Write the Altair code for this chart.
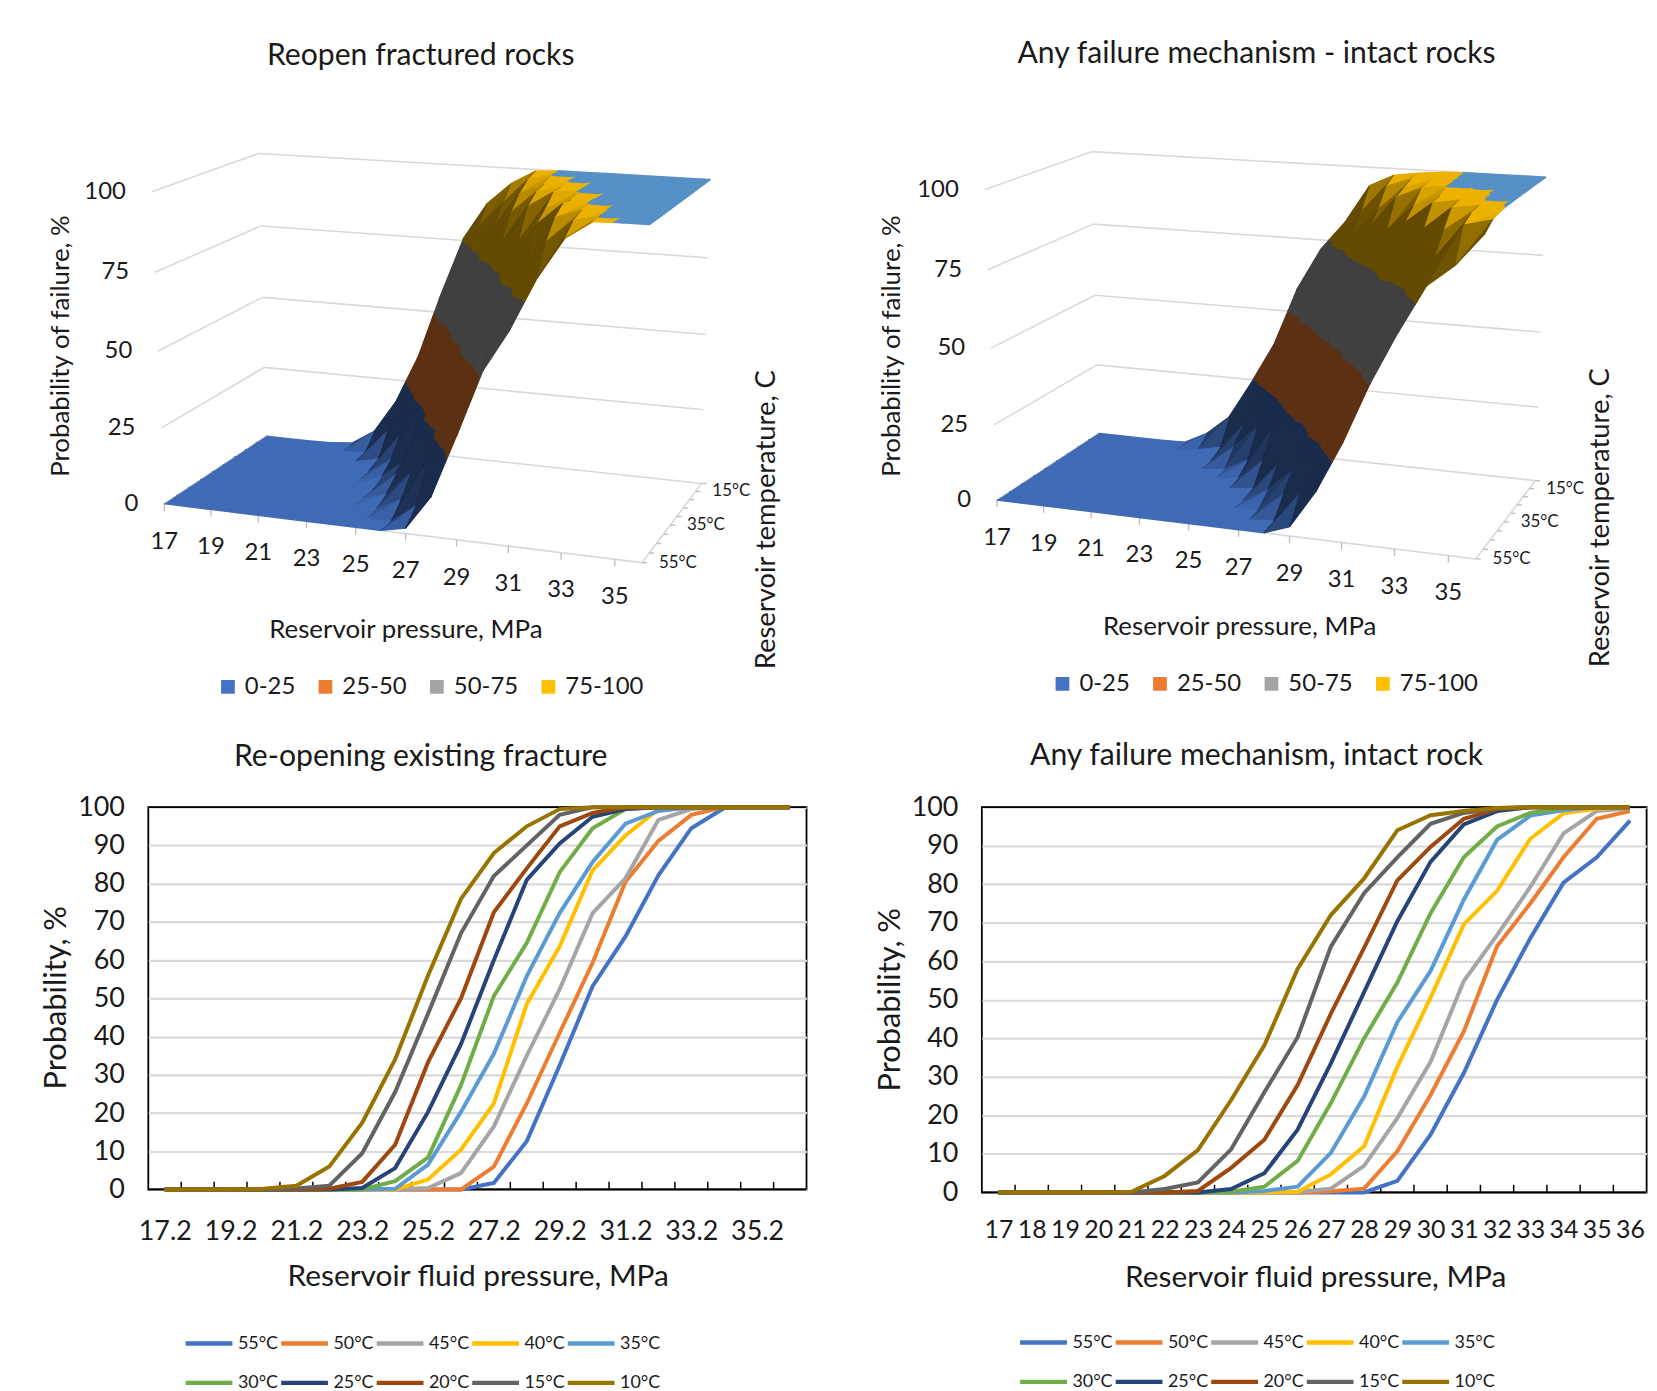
import numpy as np
import pandas as pd
import altair as alt

# ---------- values ----------
TEMPS = [55, 50, 45, 40, 35, 30, 25, 20, 15, 10]
COLORS = ["#4472C4", "#ED7D31", "#A5A5A5", "#FFC000", "#5B9BD5",
          "#70AD47", "#264478", "#9E480E", "#636363", "#997300"]
RO_P = [17.2, 18.2, 19.2, 20.2, 21.2, 22.2, 23.2, 24.2, 25.2, 26.2,
        27.2, 28.2, 29.2, 30.2, 31.2, 32.2, 33.2, 34.2, 35.2, 36.2]
RO_55 = [0, 0, 0, 0, 0, 0, 0, 0, 0, 0, 1.7, 12.6, 32.5, 53.2, 66.2, 82.2, 94.5, 99.8, 100, 100]
RO_50 = [0, 0, 0, 0, 0, 0, 0, 0, 0, 0, 6, 22.5, 41, 59.3, 80.5, 91.2, 98, 100, 100, 100]
RO_45 = [0, 0, 0, 0, 0, 0, 0, 0, 0.4, 4.3, 16.5, 35, 52.4, 72.3, 81.4, 96.7, 99.5, 100, 100, 100]
RO_40 = [0, 0, 0, 0, 0, 0, 0, 0, 2.6, 10.4, 22.5, 48.5, 63.6, 83.5, 92.6, 99.5, 100, 100, 100, 100]
RO_35 = [0, 0, 0, 0, 0, 0, 0, 0.2, 6.5, 20.3, 35.5, 55.8, 72.3, 85.7, 95.7, 99, 100, 100, 100, 100]
RO_30 = [0, 0, 0, 0, 0, 0, 0, 2.2, 8.4, 27.3, 50.6, 64.5, 83, 94.5, 99.5, 100, 100, 100, 100, 100]
RO_25 = [0, 0, 0, 0, 0, 0, 0.4, 5.6, 20.3, 38, 60, 81, 90.5, 97.5, 99.5, 100, 100, 100, 100, 100]
RO_20 = [0, 0, 0, 0, 0, 0.2, 2, 11.7, 33.3, 50, 72.5, 84, 95, 98.5, 100, 100, 100, 100, 100, 100]
RO_15 = [0, 0, 0, 0, 0.3, 1, 9.5, 25.5, 46, 67, 82, 90, 98, 100, 100, 100, 100, 100, 100, 100]
RO_10 = [0, 0, 0, 0.2, 1, 6, 17.5, 34, 56, 76, 88, 95, 99.5, 100, 100, 100, 100, 100, 100, 100]

AF_P = [17, 18, 19, 20, 21, 22, 23, 24, 25, 26, 27, 28, 29, 30, 31, 32, 33, 34, 35, 36]
AF_55 = [0, 0, 0, 0, 0, 0, 0, 0, 0, 0, 0, 0, 3, 15, 31, 50, 66, 80.4, 87, 96.5]
AF_50 = [0, 0, 0, 0, 0, 0, 0, 0, 0, 0, 0.3, 1, 10.7, 25.3, 41.8, 63.9, 75, 87, 97, 99]
AF_45 = [0, 0, 0, 0, 0, 0, 0, 0, 0, 0.2, 1, 6.9, 19.3, 33.9, 54.9, 66.8, 79.3, 93.2, 99, 99.7]
AF_40 = [0, 0, 0, 0, 0, 0, 0, 0, 0, 0.2, 4.7, 12, 32.6, 50.6, 69.6, 78.3, 91.8, 98.4, 99.6, 100]
AF_35 = [0, 0, 0, 0, 0, 0, 0, 0, 0.4, 1.5, 10.3, 24.9, 44.2, 57.5, 76, 91.5, 97.8, 99.2, 100, 100]
AF_30 = [0, 0, 0, 0, 0, 0, 0, 0.2, 1.5, 8.2, 23.2, 40, 54.5, 72.5, 87, 95, 98.5, 99.7, 100, 100]
AF_25 = [0, 0, 0, 0, 0, 0, 0, 0.9, 5, 16.3, 33.5, 52, 70.4, 85.8, 95.5, 99, 100, 100, 100, 100]
AF_20 = [0, 0, 0, 0, 0, 0, 0.4, 6.4, 13.7, 27.9, 46.4, 63.5, 81, 89.7, 97, 99.5, 100, 100, 100, 100]
AF_15 = [0, 0, 0, 0, 0, 0.9, 2.6, 11.2, 26, 40.3, 63.8, 77.7, 87, 95.7, 98.5, 99.7, 100, 100, 100, 100]
AF_10 = [0, 0, 0, 0, 0.2, 4.3, 11, 24, 38.2, 58, 72, 81.5, 94, 97.9, 99, 99.8, 100, 100, 100, 100]

RO = [RO_55, RO_50, RO_45, RO_40, RO_35, RO_30, RO_25, RO_20, RO_15, RO_10]
AF = [AF_55, AF_50, AF_45, AF_40, AF_35, AF_30, AF_25, AF_20, AF_15, AF_10]

BANDS = ["0-25", "25-50", "50-75", "75-100"]
BAND_COLORS = ["#4472C4", "#ED7D31", "#A5A5A5", "#FFC000"]
BAND_EDGES = [0, 25, 50, 75, 99.95, 100.5]
BAND_FILL = ["#4472C4", "#ED7D31", "#A5A5A5", "#FFC000", "#5B9BD5"]
Z_TICKS = [0, 25, 50, 75, 100]
P_TICK_LABELS = [17, 19, 21, 23, 25, 27, 29, 31, 33, 35]
T_TICK_LABELS = [15, 35, 55]

FONT = "Lato"
INK = "#1a1a1a"
GRID = "#D9D9D9"

# view of the 3D box: page position of its eight corners (u pressure, v depth, w height)
CUBE = [(0, 0, 0), (1, 0, 0), (1, 1, 0), (0, 1, 0), (0, 1, 1), (1, 1, 1), (0, 0, 1), (1, 0, 1)]
VIEW_A = [(163.3, 502.7), (641.7, 562.7), (703.8, 482), (265.1, 435.5),
          (257.8, 151.1), (711, 177.3), (150.2, 189.3), (651.9, 222.7)]
VIEW_B = [(999.3, 499.1), (1479.4, 559.1), (1540.6, 479.1), (1101.3, 432.5),
          (1093.8, 148.9), (1550.5, 175.5), (986.9, 187.5), (1489.8, 219.1)]


def camera(view):
    rows = []
    for (u, v, w), (x, y) in zip(CUBE, view):
        rows.append([u, v, w, 1, 0, 0, 0, 0, -x * u, -x * v, -x * w, -x])
        rows.append([0, 0, 0, 0, u, v, w, 1, -y * u, -y * v, -y * w, -y])
    return np.linalg.svd(np.array(rows, float))[2][-1].reshape(3, 4)


def project(cam, p_idx, t, z):
    """grid index along pressure, temperature, probability -> page position"""
    q = cam @ np.array([p_idx / 19, (55 - t) / 45, z / 100, 1.0])
    return float(q[0] / q[2]), float(q[1] / q[2])


def clip_band(tri, lo, hi):
    def clip(poly, keep, level):
        out = []
        for i in range(len(poly)):
            a, b = poly[i], poly[(i + 1) % len(poly)]
            ka, kb = keep(a[2]), keep(b[2])
            if ka:
                out.append(a)
            if ka != kb:
                s = (level - a[2]) / (b[2] - a[2])
                out.append(tuple(a[k] + s * (b[k] - a[k]) for k in range(3)))
        return out
    poly = clip(list(tri), lambda z: z >= lo, lo)
    if poly:
        poly = clip(poly, lambda z: z <= hi, hi)
    return poly


def shade(hex_color, f):
    r, g, b = (int(hex_color[i:i + 2], 16) for i in (1, 3, 5))
    return "#%02x%02x%02x" % (int(r * f), int(g * f), int(b * f))


def surface_table(cam, grid):
    rec = []
    pid = 0
    z = np.array(grid, float)  # rows 55..10
    for ti in range(9, 0, -1):  # back to front
        for pi in range(19):
            t_b, t_f = TEMPS[ti], TEMPS[ti - 1]
            a = (pi, t_f, z[ti - 1][pi])
            b = (pi + 1, t_f, z[ti - 1][pi + 1])
            c = (pi + 1, t_b, z[ti][pi + 1])
            d = (pi, t_b, z[ti][pi])
            for tri in ((d, c, a), (c, b, a)):
                p = np.array([[q[0] / 19, (55 - q[1]) / 45 * 0.75, q[2] / 100 * 0.9] for q in tri])
                n = np.cross(p[1] - p[0], p[2] - p[0])
                nz = abs(n[2]) / (np.linalg.norm(n) + 1e-12)
                f = 0.39 + 0.54 * float(np.clip((nz - 0.5) / 0.47, 0, 1))
                for k in range(5):
                    poly = clip_band(tri, BAND_EDGES[k], BAND_EDGES[k + 1])
                    if len(poly) < 3:
                        continue
                    col = shade(BAND_FILL[k], f)
                    for s, q in enumerate(poly):
                        x, y = project(cam, *q)
                        rec.append({"poly": pid, "seq": s, "x": x, "y": y, "c": col})
                    pid += 1
    return pd.DataFrame(rec)


def frame_lines(cam):
    rec = []
    lid = 0

    def seg(a, b):
        nonlocal lid
        for s, q in enumerate((a, b)):
            x, y = project(cam, *q)
            rec.append({"line": lid, "seq": s, "x": x, "y": y})
        lid += 1

    for z in Z_TICKS:
        seg((0, 55, z), (0, 10, z))
        seg((0, 10, z), (19, 10, z))
    seg((0, 55, 0), (19, 55, 0))
    seg((19, 55, 0), (19, 10, 0))
    return pd.DataFrame(rec)


def tick_lines(cam):
    rec = []
    lid = 0
    for i in range(0, 20, 2):
        x, y = project(cam, i, 55, 0)
        rec += [{"line": lid, "seq": 0, "x": x, "y": y}, {"line": lid, "seq": 1, "x": x, "y": y + 7}]
        lid += 1
    for t in TEMPS:
        x, y = project(cam, 19, t, 0)
        rec += [{"line": lid, "seq": 0, "x": x, "y": y}, {"line": lid, "seq": 1, "x": x + 5, "y": y}]
        lid += 1
    return pd.DataFrame(rec)


def surface_panel(grid, view, left, top, width, height, title, title_dx, title_off,
                  ytitle, xtitle, rtitle, legend_xy):
    cam = camera(view)
    X = alt.X("x:Q", axis=None, scale=alt.Scale(domain=[left, left + width], nice=False, zero=False))
    Y = alt.Y("y:Q", axis=None, scale=alt.Scale(domain=[top + height, top], nice=False, zero=False))

    grid_l = alt.Chart(frame_lines(cam)).mark_line(color=GRID, strokeWidth=1.6).encode(
        x=X, y=Y, detail="line:N", order="seq:Q")
    tick_l = alt.Chart(tick_lines(cam)).mark_line(color="#BFBFBF", strokeWidth=1.4).encode(
        x=X, y=Y, detail="line:N", order="seq:Q")
    key = pd.DataFrame({"band": BANDS, "x": [left + 300] * 4, "y": [top + 300] * 4})
    legend_l = alt.Chart(key).mark_square(size=1, opacity=1).encode(
        x=X, y=Y,
        color=alt.Color("band:N", scale=alt.Scale(domain=BANDS, range=BAND_COLORS),
                        legend=alt.Legend(title=None, orient="none", legendX=legend_xy[0], legendY=legend_xy[1],
                                          direction="horizontal", columns=4, symbolType="square", symbolSize=190,
                                          labelFont=FONT, labelFontSize=24, labelColor=INK, columnPadding=18,
                                          labelOffset=5)))
    surf = alt.Chart(surface_table(cam, grid)).mark_line(strokeWidth=1.2).encode(
        x=X, y=Y, detail="poly:N", order="seq:Q",
        fill=alt.Fill("c:N", scale=None), stroke=alt.Stroke("c:N", scale=None))

    zl = []
    for z in Z_TICKS:
        x, y = project(cam, 0, 55, z)
        zl.append({"x": x - 26, "y": y, "t": str(z)})
    z_text = alt.Chart(pd.DataFrame(zl)).mark_text(font=FONT, fontSize=24, color=INK, align="right", baseline="middle").encode(x=X, y=Y, text="t:N")
    pl = []
    for lab, i in zip(P_TICK_LABELS, range(0, 20, 2)):
        x, y = project(cam, i, 55, 0)
        pl.append({"x": x, "y": y + 38, "t": str(lab)})
    p_text = alt.Chart(pd.DataFrame(pl)).mark_text(font=FONT, fontSize=24, color=INK, align="center", baseline="middle").encode(x=X, y=Y, text="t:N")
    tl = []
    for t in T_TICK_LABELS:
        x, y = project(cam, 19, t, 0)
        tl.append({"x": x + 17, "y": y, "t": f"{t}°C"})
    t_text = alt.Chart(pd.DataFrame(tl)).mark_text(font=FONT, fontSize=17, color=INK, align="left", baseline="middle").encode(x=X, y=Y, text="t:N")

    a_y = alt.Chart(pd.DataFrame([{"x": ytitle[0], "y": ytitle[1], "t": "Probability of failure, %"}])).mark_text(
        font=FONT, fontSize=26, color=INK, angle=270, align="center", baseline="middle").encode(x=X, y=Y, text="t:N")
    a_x = alt.Chart(pd.DataFrame([{"x": xtitle[0], "y": xtitle[1], "t": "Reservoir pressure, MPa"}])).mark_text(
        font=FONT, fontSize=26, color=INK, align="center", baseline="middle").encode(x=X, y=Y, text="t:N")
    a_r = alt.Chart(pd.DataFrame([{"x": rtitle[0], "y": rtitle[1], "t": "Reservoir temperature, C"}])).mark_text(
        font=FONT, fontSize=27.5, color=INK, angle=270, align="center", baseline="middle").encode(x=X, y=Y, text="t:N")

    return alt.layer(grid_l, tick_l, legend_l, surf, z_text, p_text, t_text, a_y, a_x, a_r).properties(
        width=width, height=height,
        title=alt.TitleParams(title, font=FONT, fontSize=30.3, fontWeight="normal", color=INK, anchor="middle",
                              dx=title_dx, offset=title_off))


def line_panel(grid, pressures, label_vals, fmt, width, height, title, title_dx, title_off,
               ytitle_xy, xtitle_xy, legend_xy, label_pad, xlabel_size):
    rows = []
    for t, vals in zip(TEMPS, grid):
        for p, v in zip(pressures, vals):
            rows.append({"p": p, "v": v, "t": f"{t}°C"})
    df = pd.DataFrame(rows)
    names = [f"{t}°C" for t in TEMPS]
    lo, hi = pressures[0] - 0.5, pressures[-1] + 0.5
    X = alt.X("p:Q", scale=alt.Scale(domain=[lo, hi], nice=False, zero=False),
              axis=alt.Axis(values=label_vals, format=fmt, grid=False, domain=False, ticks=False,
                            labelFont=FONT, labelFontSize=xlabel_size, labelColor=INK, labelPadding=label_pad,
                            labelFlush=False, labelOverlap=False,
                            title="Reservoir fluid pressure, MPa", titleFont=FONT, titleFontSize=30,
                            titleFontWeight="normal", titleColor=INK, titleX=xtitle_xy[0], titleY=xtitle_xy[1],
                            titleBaseline="middle", titleAlign="center"))
    Y = alt.Y("v:Q", scale=alt.Scale(domain=[0, 100], nice=False),
              axis=alt.Axis(values=list(range(0, 101, 10)), grid=True, gridColor=GRID, gridWidth=2.2, domain=False,
                            ticks=False, labelFont=FONT, labelFontSize=27, labelColor=INK, labelPadding=24,
                            title="Probability, %", titleFont=FONT, titleFontSize=31, titleFontWeight="normal",
                            titleColor=INK, titleX=ytitle_xy[0], titleY=ytitle_xy[1], titleBaseline="middle",
                            titleAlign="center", titleAngle=270))
    bounds = pd.DataFrame({"p": [lo + 1 + i for i in range(19)], "v": [0] * 19, "v2": [2.0] * 19})
    ticks = alt.Chart(bounds).mark_rule(color="black", strokeWidth=1.5).encode(x=X, y=Y, y2="v2:Q")
    edges = alt.Chart(pd.DataFrame({"v": [0, 100]})).mark_rule(color="black", strokeWidth=1.8).encode(y=Y)
    lines = alt.Chart(df).mark_line(strokeWidth=4).encode(
        x=X, y=Y, order="p:Q",
        color=alt.Color("t:N", scale=alt.Scale(domain=names, range=COLORS),
                        legend=alt.Legend(title=None, orient="none", legendX=legend_xy[0], legendY=legend_xy[1],
                                          direction="horizontal", columns=5, symbolType="stroke", symbolSize=2209,
                                          symbolStrokeWidth=4.5, labelFont=FONT, labelFontSize=18, labelColor=INK,
                                          labelOffset=3, columnPadding=-7, rowPadding=4.5, labelLimit=80)))
    return alt.layer(edges, ticks, lines).properties(
        width=width, height=height,
        view=alt.ViewBackground(stroke="black", strokeWidth=1.8),
        title=alt.TitleParams(title, font=FONT, fontSize=30.3, fontWeight="normal", color=INK, anchor="middle",
                              dx=title_dx, offset=title_off))


A = surface_panel(RO, VIEW_A, 146.9, 100, 661.4, 500, "Reopen fractured rocks", -57, 32,
                  (59, 344.5), (405.7, 630), (769, 519), (68, 575))
B = surface_panel(AF, VIEW_B, 983.9, 100, 668, 497.9, "Any failure mechanism - intact rocks", -58, 34,
                  (893.8, 344.5), (1243, 626.4), (1606, 517), (69, 572))
C = line_panel(RO, RO_P, RO_P[::2], ".1f", 661.4, 384.2, "Re-opening existing fracture", -57, 21,
               (-92, 191), (331, 87), (35, 513), 29, 27)
D = line_panel(AF, AF_P, AF_P, "d", 668, 387.2, "Any failure mechanism, intact rock", -58, 22,
               (-92, 193), (335, 85), (36, 512), 25, 25)

chart = alt.concat(A, B, C, D, columns=2, align="none", bounds="flush", spacing={"row": 207.9, "column": 175.6}).resolve_scale(
    color="independent", x="independent", y="independent"
).configure_view(stroke=None).properties(padding={"left": 32, "top": 26.7, "right": 0, "bottom": 40}, background="white")

chart.save("out.html", embed_options={"renderer": "svg", "actions": False})
